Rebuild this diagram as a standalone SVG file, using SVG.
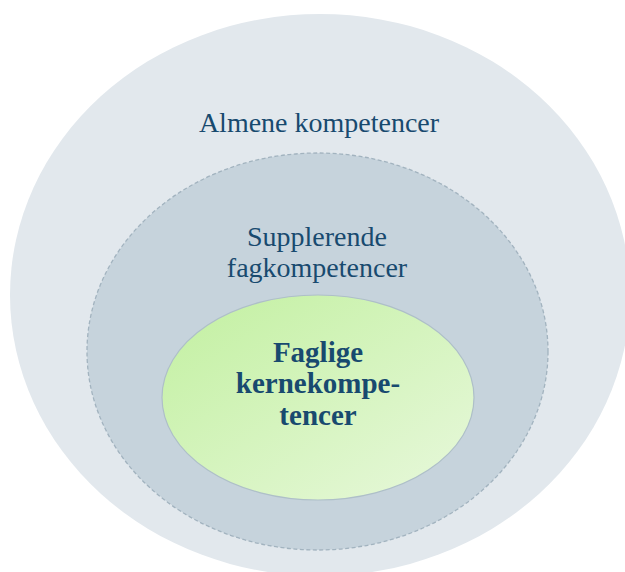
<svg xmlns="http://www.w3.org/2000/svg" width="625" height="572" viewBox="0 0 625 572">
<defs>
<linearGradient id="g" x1="0" y1="0" x2="1" y2="1">
<stop offset="0" stop-color="#c2f0a0"/>
<stop offset="1" stop-color="#e8f8dc"/>
</linearGradient>
<style>
.t{font-family:"Liberation Serif","DejaVu Serif",serif;fill:#184a6f;text-anchor:middle}
.r{font-size:28px}
.b{font-size:29px;font-weight:bold}
</style>
</defs>
<rect width="625" height="572" fill="#ffffff"/>
<g id="almene">
<ellipse cx="320" cy="295" rx="310" ry="281" fill="#e2e8ed"/>
<text class="t r" x="319" y="132">Almene kompetencer</text>
</g>
<g id="supplerende">
<ellipse cx="317.5" cy="351.5" rx="230.5" ry="198.5" fill="#c6d3dc" stroke="#a2b3bf" stroke-width="1.3" stroke-dasharray="4 2.5"/>
<text class="t r" x="317" y="246">Supplerende</text>
<text class="t r" x="317" y="277">fagkompetencer</text>
</g>
<g id="faglige">
<ellipse cx="318" cy="397.5" rx="156" ry="102.5" fill="url(#g)" stroke="#aebfc8" stroke-width="1.2"/>
<text class="t b" x="318" y="362">Faglige</text>
<text class="t b" x="318" y="393">kernekompe-</text>
<text class="t b" x="318" y="425">tencer</text>
</g>
<g id="connectors"/>
</svg>
